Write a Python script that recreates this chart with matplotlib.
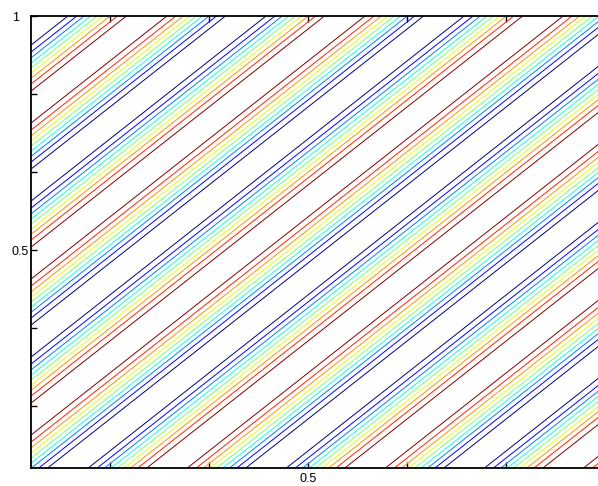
import matplotlib
matplotlib.use('Agg')
import matplotlib.pyplot as plt
import matplotlib.transforms as mtransforms
import numpy as np

# contour levels of the wave (coloured with jet)
levels = [-0.8, -0.6, -0.4, -0.2, 0.0, 0.2, 0.4, 0.6, 0.8]

# wave periods along x and y, and its phase (in cycles)
x_period = 0.4
y_period = 1 / 3
phase = 0.565

# axis ranges and ticks
x_range = [-0.0596, 1.17]
y_range = [0.0342, 1.0]
x_ticks = [0.1, 0.3, 0.5, 0.7, 0.9, 1.1]
x_tick_labels = ['', '', '0.5', '', '', '']
y_ticks = [1 / 6, 1 / 3, 0.5, 2 / 3, 5 / 6, 1.0]
y_tick_labels = ['', '', '0.5', '', '', '1']

plt.rcParams['font.family'] = ['Liberation Sans', 'DejaVu Sans']

# grid for the contour
x = np.linspace(x_range[0], x_range[1], 700)
y = np.linspace(y_range[0], y_range[1], 600)
X, Y = np.meshgrid(x, y)
Z = np.cos(2 * np.pi * (X / x_period - Y / y_period + phase))

fig = plt.figure(figsize=(5.98, 4.86), dpi=100)
# axes run past the right edge of the picture, as in the original
ax = fig.add_axes([31 / 598, 18 / 486, 609 / 598, 452 / 486])

ax.contour(X, Y, Z, levels=levels, cmap='jet', linewidths=0.7)

ax.set_xlim(x_range)
ax.set_ylim(y_range)
ax.set_xticks(x_ticks)
ax.set_xticklabels(x_tick_labels)
ax.set_yticks(y_ticks)
ax.set_yticklabels(y_tick_labels)

ax.tick_params(direction='in', length=4, width=1, top=True, right=True,
               labelsize=9, colors='black')
ax.tick_params(axis='x', pad=3.5)
ax.tick_params(axis='y', pad=1.5)

for side in ['left', 'bottom', 'top', 'right']:
    ax.spines[side].set_linewidth(1.3)
    ax.spines[side].set_color('black')

# the "1" label sits further left than "0.5"
for lab in ax.get_yticklabels():
    if lab.get_text() == '1':
        shift = mtransforms.ScaledTranslation(-10 / 100, 0, fig.dpi_scale_trans)
        lab.set_transform(lab.get_transform() + shift)

fig.savefig('out.png', dpi=100)
